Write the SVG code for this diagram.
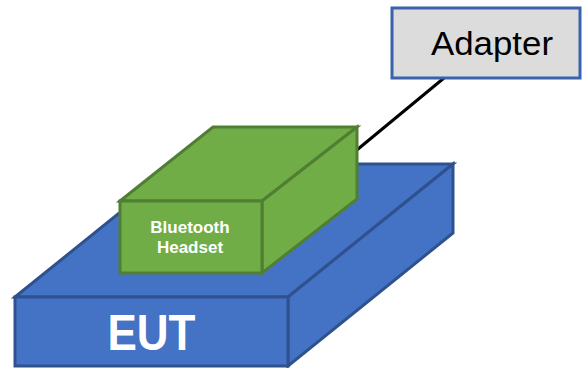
<svg xmlns="http://www.w3.org/2000/svg" width="582" height="368" viewBox="0 0 582 368">
<style>
.eut{fill:#4472c4;stroke:#2f528f;stroke-width:3;stroke-linejoin:miter}
.bt{fill:#70ad47;stroke:#507e32;stroke-width:3;stroke-linejoin:miter}
.ad{fill:#dcdcdc;stroke:#3a62ad;stroke-width:3}
.wt{fill:#ffffff;font-family:"Liberation Sans",Arial,sans-serif;font-weight:bold;text-anchor:middle}
.bk{fill:#000000;font-family:"Liberation Sans",Arial,sans-serif;text-anchor:middle}
</style>
<g id="eut">
<polygon class="eut" points="15,297 180,164 453,164 288,297"/>
<polygon class="eut" points="288,297 453,164 453,233 288,366"/>
<rect class="eut" x="15" y="297" width="273" height="69"/>
<text class="wt" x="151.5" y="350" font-size="50" textLength="88" lengthAdjust="spacingAndGlyphs">EUT</text>
</g>
<g id="connectors">
<line x1="444" y1="78" x2="352" y2="154" stroke="#000" stroke-width="3"/>
</g>
<g id="headset">
<polygon class="bt" points="120,201 213,127 357,127 262,201"/>
<polygon class="bt" points="262,201 357,127 357,199 262,273"/>
<rect class="bt" x="120" y="201" width="142" height="72"/>
<text class="wt" x="190" y="233" font-size="17">Bluetooth</text>
<text class="wt" x="190" y="253" font-size="17">Headset</text>
</g>
<g id="adapter">
<rect class="ad" x="392" y="8" width="188" height="70"/>
<text class="bk" x="492" y="55" font-size="33" textLength="122" lengthAdjust="spacingAndGlyphs">Adapter</text>
</g>
</svg>
